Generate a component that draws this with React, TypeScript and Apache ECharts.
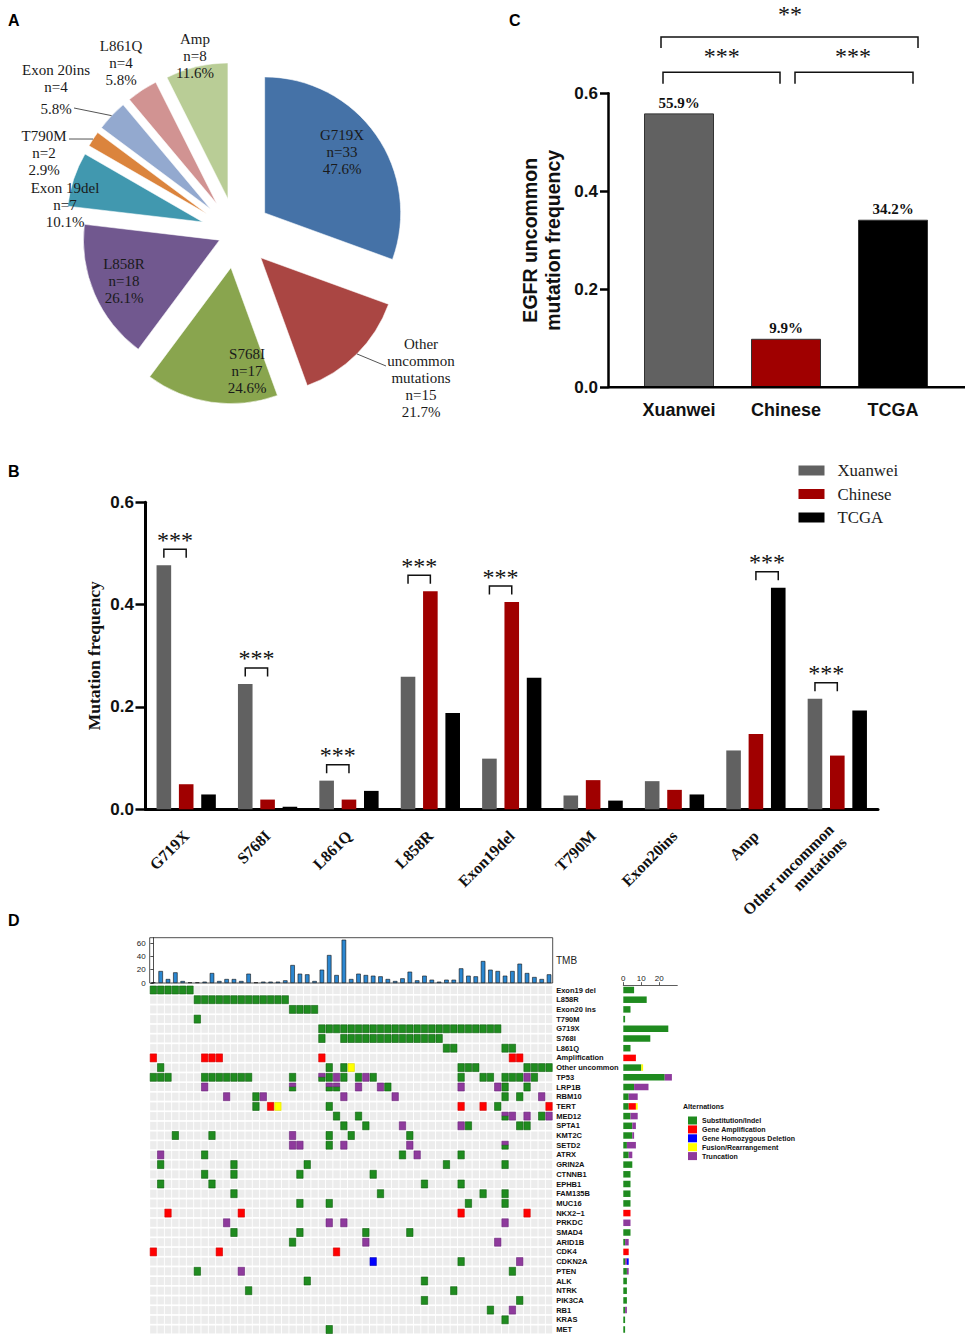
import React, { useEffect, useRef } from "react";
import * as echarts from "echarts";

const SANS = "'Liberation Sans', Arial, sans-serif";
const SERIF = "'Liberation Serif', 'Times New Roman', serif";

// ---------- Panel A : pie ----------
const pieNames = ["G719X", "Other\nuncommon\nmutations", "S768I", "L858R", "Exon 19del", "T790M", "Exon 20ins", "L861Q", "Amp"];
const pieCounts = [33, 15, 17, 18, 7, 2, 4, 4, 8];
const piePercents = ["47.6%", "21.7%", "24.6%", "26.1%", "10.1%", "2.9%", "5.8%", "5.8%", "11.6%"];

// ---------- Panel C ----------
const cohorts = ["Xuanwei", "Chinese", "TCGA"];
const uncommonFreq = [0.559, 0.099, 0.342];
const uncommonLabels = ["55.9%", "9.9%", "34.2%"];

// ---------- Panel B ----------
const mutationTypes = ["G719X", "S768I", "L861Q", "L858R", "Exon19del", "T790M", "Exon20ins", "Amp", "Other uncommon\nmutations"];
const xuanweiFreq = [0.477, 0.245, 0.056, 0.259, 0.099, 0.027, 0.055, 0.115, 0.216];
const chineseFreq = [0.049, 0.019, 0.019, 0.426, 0.405, 0.057, 0.038, 0.147, 0.105];
const tcgaFreq = [0.029, 0.005, 0.036, 0.188, 0.257, 0.017, 0.029, 0.433, 0.193];
// [category index, cohort a, cohort b]
const sigPairsB = [[0, 0, 1], [1, 0, 1], [2, 0, 1], [3, 0, 1], [4, 0, 1], [7, 1, 2], [8, 0, 1]];

// ---------- Panel D ----------
const tmb = [1, 18, 6, 16, 3, 1, 1, 2, 15, 3, 6, 6, 3, 14, 1, 2, 2, 2, 4, 27, 14, 13, 3, 20, 42, 12, 65, 6, 14, 12,
  11, 10, 6, 3, 7, 17, 4, 11, 5, 2, 5, 5, 22, 11, 10, 33, 20, 18, 11, 18, 29, 15, 9, 6, 13];
const genes = ["Exon19 del", "L858R", "Exon20 ins", "T790M", "G719X", "S768I", "L861Q", "Amplification", "Other uncommon",
  "TP53", "LRP1B", "RBM10", "TERT", "MED12", "SPTA1", "KMT2C", "SETD2", "ATRX", "GRIN2A", "CTNNB1", "EPHB1", "FAM135B",
  "MUC16", "NKX2\u22121", "PRKDC", "SMAD4", "ARID1B", "CDK4", "CDKN2A", "PTEN", "ALK", "NTRK", "PIK3CA", "RB1", "KRAS", "MET"];
// sample columns (0-based) per alteration code; M = truncation + substitution in the same sample
const geneAlterations = [
  "S:0-5", "S:6-18", "S:19-22", "S:6", "S:23-47", "S:23,26-39", "S:40,41,48,49", "A:0,7-9,23,49,50",
  "S:1,24,26,42-44,51-54 F:27",
  "S:0-2,7-13,19,24,26,28,30,42,45,46,48-50,52 T:25,29,51 M:23",
  "S:32,48,51 T:7,28,31,42,47 M:19,24,25",
  "S:14,48,50 T:10,15,26,33,53",
  "S:14,24,47 A:16,42,45,54 F:17",
  "S:25,28,53 T:49,51,54 M:48",
  "S:26,29,43,50,51 T:34,42",
  "S:3,8,24,27,35 T:19",
  "S:24 T:19,20,26,35 M:48",
  "S:7,34,42 T:1,36",
  "S:1,11,21,40,48",
  "S:7,11,20,30",
  "S:1,8,37,42",
  "S:11,31,45,48",
  "S:20,24,43,48",
  "A:2,12,42,51",
  "T:10,24,26,48",
  "S:11,20,29,35",
  "S:19 T:29,47",
  "A:0,9,25",
  "S:42 T:50 D:30",
  "S:6,49 T:12",
  "S:21,37",
  "S:13,41",
  "S:37,50",
  "S:46 T:49",
  "S:48",
  "S:24",
];
const altCodes = ["S", "A", "T", "D", "F"];
const altNames = ["Substitution/Indel", "Gene Amplification", "Truncation", "Gene Homozygous Deletion", "Fusion/Rearrangement"];
const legendAltNames = ["Substitution/Indel", "Gene Amplification", "Gene Homozygous Deletion", "Fusion/Rearrangement", "Truncation"];

// ---------- styles / layout ----------
const pieColors = ["#4572A7", "#AA4643", "#89A54E", "#71588F", "#4198AF", "#DB843D", "#93A9CF", "#D19392", "#B9CD96"];
const PIE_C = [236, 233];
const PIE_R = 136;
const pieOffsets = [35, 35, 35, 18, 35, 35, 35, 35, 35];
// label block centres (text annotation positions)
const pieLabelPos = [[342, 152], [421, 378], [247, 371], [124, 281], [65, 205], [44, 153], [56, 78.5], [121, 63], [195, 56]];
// leader lines: slice index -> text-side end point
const pieLeaders: [number, number, number][] = [[1, 386, 366], [5, 69, 139], [6, 74, 108]];
const cohortColors = ["#616161", "#a00000", "#000000"];
const altColors: Record<string, string> = { S: "#1f8b1f", A: "#ff0000", T: "#8e3a9c", D: "#0000ff", F: "#ffff00" };
const altStroke: Record<string, string> = { S: "#0f620f", A: "#d00000", T: "#6a2478", D: "#0000b0", F: "#d8d800" };
const B_BAR_W = 14.6;
const B_GAP = 0.53;

function parseSpec(spec: string) {
  const out: Record<string, number[]> = {};
  spec.split(" ").filter(Boolean).forEach((tok) => {
    const [code, list] = tok.split(":");
    const cols: number[] = [];
    list.split(",").forEach((part) => {
      if (part.includes("-")) {
        const [a, b] = part.split("-").map(Number);
        for (let c = a; c <= b; c++) cols.push(c);
      } else cols.push(Number(part));
    });
    out[code] = cols;
  });
  return out;
}

function buildOption() {
  const parsed = geneAlterations.map(parseSpec);
  const cells: Record<string, number[][]> = { S: [], A: [], T: [], D: [], F: [] };
  parsed.forEach((p, row) => {
    Object.keys(p).forEach((code) => {
      p[code].forEach((c) => {
        if (code === "M") {
          cells.T.push([c, row, 1]);
          cells.S.push([c, row, 2]);
        } else cells[code].push([c, row, 0]);
      });
    });
  });
  const counts = altCodes.map((code) =>
    parsed.map((p) => (p[code] ? p[code].length : 0) + ((code === "S" || code === "T") && p.M ? p.M.length : 0))
  );
  const bg: number[][] = [];
  genes.forEach((_, r) => tmb.forEach((__, c) => bg.push([c, r])));

  const cellRender = (code: string | null) => (params: any, api: any) => {
    const c = api.coord([api.value(0), api.value(1)]);
    const bw = api.size([1, 0])[0];
    const bh = api.size([0, 1])[1];
    const w = bw - 0.9;
    const h = bh - 1.7;
    const part = code ? api.value(2) : 0;
    let y = c[1] - h / 2;
    let hh = h;
    if (part === 1) hh = h * 0.45;
    else if (part === 2) {
      y = c[1] - h / 2 + h * 0.45;
      hh = h * 0.55;
    }
    return {
      type: "rect",
      shape: { x: c[0] - w / 2, y, width: w, height: hh },
      style: code
        ? { fill: altColors[code], stroke: altStroke[code], lineWidth: 0.6 }
        : { fill: "#ececec" },
    };
  };

  const pieData = (vis: (i: number) => boolean) =>
    pieCounts.map((v, i) => ({
      name: pieNames[i],
      value: v,
      selected: vis(i),
      itemStyle: {
        color: vis(i) ? pieColors[i] : "rgba(0,0,0,0)",
        borderColor: vis(i) ? "rgba(255,255,255,0.55)" : "rgba(0,0,0,0)",
        borderWidth: 1,
      },
    }));

  const pieSeries = (vis: (i: number) => boolean, offset: number) => ({
    type: "pie",
    center: PIE_C,
    radius: PIE_R,
    startAngle: 90,
    clockwise: true,
    selectedMode: "multiple",
    selectedOffset: offset,
    avoidLabelOverlap: false,
    silent: true,
    data: pieData(vis),
    label: { show: false },
    labelLine: { show: false },
  });

  return {
    animation: false,
    backgroundColor: "#fff",
    grid: [
      { left: 625.5, top: 93.3, width: 321, height: 294 },
      { left: 145.5, top: 502.3, width: 732.5, height: 307 },
      { left: 149.7, top: 937.7, width: 403, height: 45.3, show: true, borderColor: "#222", borderWidth: 0.8, backgroundColor: "transparent" },
      { left: 149.7, top: 985.15, width: 403, height: 349.2 },
      { left: 623.3, top: 985.15, width: 54, height: 349.2 },
    ],
    legend: [
      {
        data: cohorts,
        orient: "vertical",
        left: 793.5,
        top: 457,
        icon: "rect",
        itemWidth: 26,
        itemHeight: 10,
        itemGap: 6.5,
        selectedMode: false,
        textStyle: { fontFamily: SERIF, fontSize: 16.8, lineHeight: 16, color: "#222", padding: [0, 0, 0, 8] },
      },
      {
        data: legendAltNames,
        orient: "vertical",
        left: 683,
        top: 1111.5,
        icon: "rect",
        itemWidth: 9,
        itemHeight: 8,
        itemGap: 0.9,
        selectedMode: false,
        textStyle: { fontFamily: SANS, fontSize: 7, fontWeight: "bold", lineHeight: 8, color: "#111" },
      },
    ],
    xAxis: [
      {
        gridIndex: 0,
        type: "category",
        data: cohorts,
        axisLine: { show: false },
        axisTick: { alignWithLabel: true, length: 9, lineStyle: { width: 2.5, color: "#000" } },
        axisLabel: { fontFamily: SANS, fontWeight: "bold", fontSize: 18, color: "#111", margin: 14, interval: 0 },
      },
      {
        gridIndex: 1,
        type: "category",
        data: mutationTypes,
        axisLine: { lineStyle: { width: 3, color: "#000" } },
        axisTick: { alignWithLabel: true, length: 11, lineStyle: { width: 2.5, color: "#000" } },
        axisLabel: { fontFamily: SERIF, fontWeight: "bold", fontSize: 16, color: "#111", margin: 24, rotate: 45, interval: 0, lineHeight: 18 },
      },
      { gridIndex: 2, type: "value", min: -0.5, max: 54.5, show: false },
      { gridIndex: 3, type: "value", min: -0.5, max: 54.5, show: false },
      {
        gridIndex: 4,
        type: "value",
        position: "top",
        min: 0,
        max: 30,
        interval: 10,
        splitLine: { show: false },
        axisLine: { show: true, lineStyle: { color: "#333", width: 0.8 } },
        axisTick: { show: true, length: 3, lineStyle: { color: "#333", width: 0.8 } },
        axisLabel: { fontFamily: SANS, fontSize: 8, color: "#222", margin: 3, showMaxLabel: false },
      },
    ],
    yAxis: [
      {
        gridIndex: 0,
        type: "value",
        min: 0,
        max: 0.6,
        interval: 0.2,
        offset: 17.5,
        splitLine: { show: false },
        axisLine: { show: true, lineStyle: { width: 2.5, color: "#000" } },
        axisTick: { show: true, length: 8, lineStyle: { width: 2.5, color: "#000" } },
        axisLabel: { fontFamily: SANS, fontWeight: "bold", fontSize: 17, color: "#111", margin: 10, formatter: (v: number) => v.toFixed(1) },
        name: "EGFR uncommon\nmutation frequency",
        nameLocation: "middle",
        nameGap: 44,
        nameMoveOverlap: false,
        nameTextStyle: { fontFamily: SANS, fontWeight: "bold", fontSize: 19.5, lineHeight: 23, color: "#111" },
      },
      {
        gridIndex: 1,
        type: "value",
        min: 0,
        max: 0.6,
        interval: 0.2,
        splitLine: { show: false },
        axisLine: { show: true, lineStyle: { width: 3, color: "#000" } },
        axisTick: { show: true, length: 10, lineStyle: { width: 2.5, color: "#000" } },
        axisLabel: { fontFamily: SANS, fontWeight: "bold", fontSize: 17, color: "#111", margin: 11.5, formatter: (v: number) => v.toFixed(1) },
        name: "Mutation frequency",
        nameLocation: "middle",
        nameGap: 43,
        nameMoveOverlap: false,
        nameTextStyle: { fontFamily: SERIF, fontWeight: "bold", fontSize: 17.5, color: "#111" },
      },
      {
        gridIndex: 2,
        type: "value",
        min: 0,
        max: 68,
        interval: 20,
        splitLine: { show: false },
        axisLine: { show: true, lineStyle: { color: "#222", width: 0.8 } },
        axisTick: { show: true, length: 3, lineStyle: { color: "#222", width: 0.8 } },
        axisLabel: { fontFamily: SANS, fontSize: 8, color: "#222", margin: 4, showMaxLabel: false },
      },
      {
        gridIndex: 3,
        type: "category",
        data: genes,
        inverse: true,
        position: "right",
        axisLine: { show: false },
        axisTick: { show: false },
        axisLabel: { fontFamily: SANS, fontWeight: "bold", fontSize: 7.5, color: "#111", margin: 3.5, interval: 0 },
      },
      { gridIndex: 4, type: "category", data: genes, inverse: true, show: false },
    ],
    series: [
      pieSeries((i) => pieOffsets[i] === 35, 35),
      pieSeries((i) => pieOffsets[i] === 18, 18),
      {
        name: "EGFR uncommon",
        type: "bar",
        xAxisIndex: 0,
        yAxisIndex: 0,
        barWidth: 70,
        silent: true,
        data: uncommonFreq.map((v, i) => ({
          value: v,
          itemStyle: { color: cohortColors[i], borderColor: "#333", borderWidth: 1 },
        })),
        label: {
          show: true,
          position: "top",
          distance: 3,
          fontFamily: SERIF,
          fontWeight: "bold",
          fontSize: 15,
          color: "#111",
          formatter: (p: any) => uncommonLabels[p.dataIndex],
        },
      },
      ...[xuanweiFreq, chineseFreq, tcgaFreq].map((d, s) => ({
        name: cohorts[s],
        type: "bar",
        xAxisIndex: 1,
        yAxisIndex: 1,
        barWidth: B_BAR_W,
        barGap: `${B_GAP * 100}%`,
        silent: true,
        data: d,
        itemStyle: { color: cohortColors[s] },
      })),
      {
        name: "TMB",
        type: "bar",
        xAxisIndex: 2,
        yAxisIndex: 2,
        barWidth: 4.5,
        silent: true,
        data: tmb.map((v, i) => [i, v]),
        itemStyle: { color: "#2b87d1", borderColor: "#111", borderWidth: 0.6 },
      },
      {
        name: "cells",
        type: "custom",
        xAxisIndex: 3,
        yAxisIndex: 3,
        silent: true,
        data: bg,
        renderItem: cellRender(null),
      },
      ...altCodes.map((code, k) => ({
        name: altNames[k],
        type: "custom",
        xAxisIndex: 3,
        yAxisIndex: 3,
        silent: true,
        itemStyle: { color: altColors[code] },
        data: cells[code],
        renderItem: cellRender(code),
      })),
      ...altCodes.map((code, k) => ({
        name: altNames[k],
        type: "bar",
        stack: "alt",
        xAxisIndex: 4,
        yAxisIndex: 4,
        barWidth: 6.5,
        silent: true,
        itemStyle: { color: altColors[code] },
        data: counts[k],
      })),
    ],
  };
}

function textEl(text: string, x: number, y: number, font: string, align = "left", fill = "#000", lineHeight?: number) {
  const style: any = { text, font, fill, textAlign: align, textVerticalAlign: "middle", align, verticalAlign: "middle" };
  if (lineHeight) style.lineHeight = lineHeight;
  return { type: "text", x, y, z: 100, silent: true, style };
}

function bracket(x1: number, x2: number, yTop: number, leg: number, lw: number) {
  return {
    type: "polyline",
    silent: true,
    z: 100,
    shape: { points: [[x1, yTop + leg], [x1, yTop], [x2, yTop], [x2, yTop + leg]] },
    style: { stroke: "#111", lineWidth: lw, fill: "none" },
  };
}

function buildGraphics(chart: any) {
  const g: any[] = [];
  g.push(textEl("A", 8, 20, `bold 16px ${SANS}`));
  g.push(textEl("C", 509, 20, `bold 16px ${SANS}`));
  g.push(textEl("B", 8, 471, `bold 16px ${SANS}`));
  g.push(textEl("D", 8, 920, `bold 16px ${SANS}`));

  // Panel A labels
  const pieFont = `15px ${SERIF}`;
  pieCounts.forEach((v, i) => {
    const [x, y] = pieLabelPos[i];
    if (i === 6) {
      g.push(textEl(`${pieNames[i]}\nn=${v}`, x, y, pieFont, "center", "#1a1a1a", 17));
      g.push(textEl(piePercents[i], x, y + 30.5, pieFont, "center", "#1a1a1a", 17));
    } else {
      g.push(textEl(`${pieNames[i]}\nn=${v}\n${piePercents[i]}`, x, y, pieFont, "center", "#1a1a1a", 17));
    }
  });
  const total = pieCounts.reduce((a, b) => a + b, 0);
  const cum: number[] = [];
  pieCounts.reduce((acc, v, i) => ((cum[i] = acc), acc + v), 0);
  pieLeaders.forEach(([i, tx, ty]) => {
    const mid = ((cum[i] + pieCounts[i] / 2) / total) * Math.PI * 2;
    const r = PIE_R + pieOffsets[i];
    const px = PIE_C[0] + r * Math.sin(mid);
    const py = PIE_C[1] - r * Math.cos(mid);
    g.push({
      type: "line",
      silent: true,
      z: 100,
      shape: { x1: px, y1: py, x2: tx, y2: ty },
      style: { stroke: "#555", lineWidth: 1 },
    });
  });

  // Panel C: x axis line spanning the full plot
  const zeroC = chart.convertToPixel({ xAxisIndex: 0, yAxisIndex: 0 }, [0, 0]);
  g.push({
    type: "line",
    silent: true,
    z: 100,
    shape: { x1: 608, y1: zeroC[1], x2: 965, y2: zeroC[1] },
    style: { stroke: "#000", lineWidth: 2.5 },
  });
  // Panel C significance
  g.push(bracket(661, 918, 37, 11, 1.5));
  g.push(textEl("**", 790, 14, `24px ${SERIF}`, "center", "#111"));
  g.push(bracket(663, 780, 72.3, 11.5, 1.5));
  g.push(textEl("***", 721.7, 55.5, `24px ${SERIF}`, "center", "#111"));
  g.push(bracket(795, 913, 72.3, 11.5, 1.5));
  g.push(textEl("***", 853, 55.5, `24px ${SERIF}`, "center", "#111"));

  // Panel B significance brackets from bar positions
  const series = [xuanweiFreq, chineseFreq, tcgaFreq];
  const off = B_BAR_W * (1 + B_GAP);
  sigPairsB.forEach(([cat, a, b]) => {
    const pa = chart.convertToPixel({ xAxisIndex: 1, yAxisIndex: 1 }, [cat, series[a][cat]]);
    const pb = chart.convertToPixel({ xAxisIndex: 1, yAxisIndex: 1 }, [cat, series[b][cat]]);
    const xa = pa[0] + (a - 1) * off;
    const xb = pb[0] + (b - 1) * off;
    const yTop = Math.min(pa[1], pb[1]) - 16;
    g.push(bracket(xa, xb, yTop, 8.5, 1.5));
    g.push(textEl("***", (xa + xb) / 2, yTop - 9.5, `24px ${SERIF}`, "center", "#111"));
  });

  // Panel D texts
  g.push(textEl("TMB", 556, 960, `10px ${SANS}`, "left", "#222"));
  g.push(textEl("Alternations", 683, 1106, `bold 7px ${SANS}`, "left", "#111"));
  return g;
}

export default function App() {
  const ref = useRef<HTMLDivElement>(null);
  useEffect(() => {
    if (!ref.current) return;
    const chart = echarts.init(ref.current, null, { renderer: "svg" });
    chart.setOption(buildOption() as any);
    chart.setOption({ graphic: buildGraphics(chart) } as any);
    return () => chart.dispose();
  }, []);
  return (
    <div
      ref={ref}
      style={{ position: "absolute", left: 0, top: 0, width: 967, height: 1339, background: "#fff" }}
    />
  );
}
